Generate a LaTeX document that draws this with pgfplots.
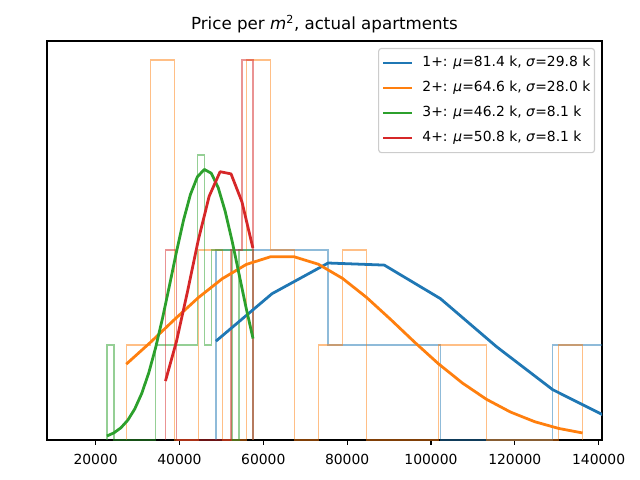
\documentclass[border=0pt]{standalone}
\usepackage{pgfplots}
\pgfplotsset{compat=1.18}
\usepackage{fontspec}
\setmainfont{DejaVu Sans}
\definecolor{cA}{HTML}{1F77B4}
\definecolor{cB}{HTML}{FF7F0E}
\definecolor{cC}{HTML}{2CA02C}
\definecolor{cD}{HTML}{D62728}
\begin{document}
\begin{tikzpicture}
\path[use as bounding box] (0,0) rectangle (460.8pt,345.6pt);
\begin{axis}[
  at={(33.84pt,28.8pt)}, anchor=south west,
  width=399.6pt, height=287.3pt, scale only axis,
  xmin=8400, xmax=140800, ymin=0, ymax=4.2,
  scaled x ticks=false,
  ytick=\empty,
  xtick={20000,40000,60000,80000,100000,120000,140000},
  xticklabels={20000,40000,60000,80000,100000,120000,140000},
  tick align=outside, xtick pos=bottom,
  major tick length=3.5pt,
  every tick/.style={black, line width=0.8pt},
  axis line style={line width=0.8pt},
  tick label style={font=\fontsize{10}{12}\selectfont},
  xticklabel style={inner sep=0pt, yshift=-6.5pt},
  title={Price per \textit{m}\textsuperscript{2}, actual apartments},
  title style={font=\fontsize{12}{14}\selectfont, at={(0.5,1)}, anchor=base, inner sep=0pt, yshift=2.2pt},
  legend style={at={(1,1)}, anchor=north east, xshift=-5pt, yshift=-5pt,
    draw=black!20, line width=0.8pt, rounded corners=2pt, fill=white,
    font=\fontsize{10}{12}\selectfont, inner xsep=3pt, inner ysep=5.5pt,
    row sep=8pt, column sep=7.5pt,
    nodes={inner sep=0pt, text height=7.6pt, text depth=2.4pt}},
  legend cell align=left,
  legend image code/.code={\fill[#1, draw=none, rounded corners=0pt] (-0.5pt,-1pt) rectangle (20.5pt,1pt);},
]
% histograms (step outlines)
\addplot[const plot, cA, draw opacity=0.5, line width=1pt, forget plot] coordinates {
(48690,0)(48690,2)(62080,2)(75470,1)(88860,1)(102250,0)(115640,0)(129030,1)(142420,1)(155810,1)(155810,0)};
\addplot[const plot, cB, draw opacity=0.5, line width=1pt, forget plot] coordinates {
(27300,0)(27300,1)(33030,4)(38760,0)(44490,2)(50220,0)(55950,4)(61680,2)(67410,0)(73140,1)(78870,2)(84600,0)(90330,0)(96060,0)(101790,1)(107520,1)(113250,0)(118980,0)(124710,0)(130440,1)(136170,1)(136170,0)};
\addplot[const plot, cC, draw opacity=0.5, line width=1pt, forget plot] coordinates {
(22700,0)(22700,1)(24360,0)(26019,0)(27679,0)(29338,0)(30998,0)(32657,0)(34317,1)(35976,1)(37636,1)(39295,1)(40955,1)(42614,1)(44274,3)(45933,1)(47593,2)(49252,2)(50912,2)(52571,0)(54231,2)(55890,2)(57550,2)(57550,0)};
\addplot[const plot, cD, draw opacity=0.5, line width=1pt, forget plot] coordinates {
(36659,0)(36659,2)(39266,0)(41874,0)(44481,0)(47088,0)(49696,0)(52303,2)(54911,4)(57518,4)(57518,0)};
% curves
\addplot[cA, line width=2pt, line join=round] coordinates {
(48690,1.040)(62080,1.540)(75470,1.863)(88860,1.841)(102250,1.488)(115640,0.982)(129030,0.530)(142420,0.234)(155810,0.084)};
\addlegendentry{1+: \textit{μ}=81.4 k, \textit{σ}=29.8 k}
\addplot[cB, line width=2pt, line join=round] coordinates {
(27300,0.798)(33030,1.026)(38760,1.266)(44490,1.498)(50220,1.698)(55950,1.848)(61680,1.928)(67410,1.928)(73140,1.850)(78870,1.702)(84600,1.502)(90330,1.271)(96060,1.031)(101790,0.802)(107520,0.599)(113250,0.428)(118980,0.294)(124710,0.193)(130440,0.122)(136170,0.074)};
\addlegendentry{2+: \textit{μ}=64.6 k, \textit{σ}=28.0 k}
\addplot[cC, line width=2pt, line join=round] coordinates {
(22700,0.042)(24360,0.075)(26019,0.128)(27679,0.209)(29338,0.327)(30998,0.490)(32657,0.704)(34317,0.972)(35976,1.285)(37636,1.630)(39295,1.982)(40955,2.311)(42614,2.584)(44274,2.770)(45933,2.848)(47593,2.808)(49252,2.655)(50912,2.406)(52571,2.092)(54231,1.743)(55890,1.393)(57550,1.068)};
\addlegendentry{3+: \textit{μ}=46.2 k, \textit{σ}=8.1 k}
\addplot[cD, line width=2pt, line join=round] coordinates {
(36659,0.621)(39266,1.034)(41874,1.553)(44481,2.102)(47088,2.566)(49696,2.824)(52303,2.801)(54911,2.506)(57518,2.020)};
\addlegendentry{4+: \textit{μ}=50.8 k, \textit{σ}=8.1 k}
\end{axis}
\end{tikzpicture}
\end{document}
